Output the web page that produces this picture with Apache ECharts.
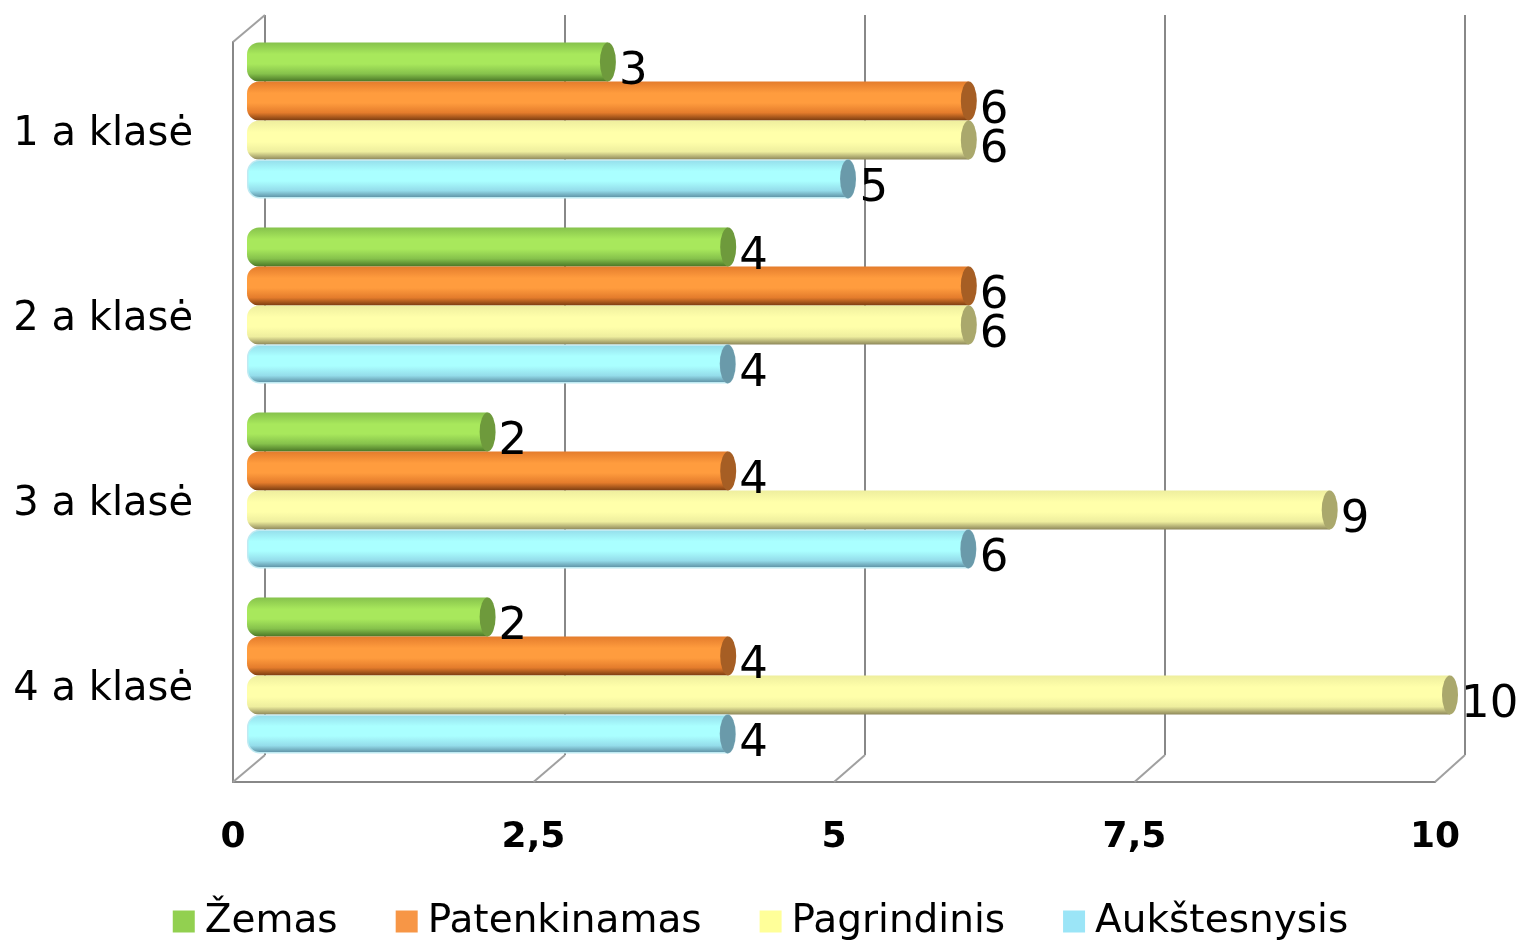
<!DOCTYPE html>
<html><head><meta charset="utf-8">
<script src="https://cdn.jsdelivr.net/npm/echarts@6/dist/echarts.min.js"></script>
<style>html,body{margin:0;padding:0;background:#fff}#c{width:1521px;height:943px}</style>
</head><body><div id="c"></div>
<script>
const categories = ['1 a klasė', '2 a klasė', '3 a klasė', '4 a klasė'];
const seriesNames = ['Žemas', 'Patenkinamas', 'Pagrindinis', 'Aukštesnysis'];
const zemas = [3, 4, 2, 2];
const patenkinamas = [6, 6, 4, 4];
const pagrindinis = [6, 6, 9, 10];
const aukstesnysis = [5, 4, 6, 4];
const xTicks = [0, 2.5, 5, 7.5, 10];

const seriesValues = [zemas, patenkinamas, pagrindinis, aukstesnysis];
const legendColors = ['#92D050', '#F79646', '#FFFF99', '#9BE5F7'];
const shades = [
  {top:'#86c24c', hi:'#a8e85c', bot:'#4a7626', cap:'#6e9a3c', border:null},
  {top:'#e47c2c', hi:'#ff9c3e', bot:'#7a3c10', cap:'#a65e24', border:null},
  {top:'#eeee9e', hi:'#ffffaa', bot:'#8e885a', cap:'#aaa86c', border:null},
  {top:'#94dcea', hi:'#aaffff', bot:'#56869a', cap:'#6a9aaa', border:'#bfeaf2'}
];
function grad(s){
  return new echarts.graphic.LinearGradient(0,0,0,1,[
    {offset:0,color:s.top},{offset:0.3,color:s.hi},{offset:0.55,color:s.hi},{offset:0.8,color:s.top},{offset:1,color:s.bot}]);
}
const FONT = '"DejaVu Sans", Verdana, sans-serif';
const chart = echarts.init(document.getElementById('c'), null, {renderer:'canvas'});

const series = [];
seriesValues.forEach((vals, i) => {
  series.push({
    name: seriesNames[i], type:'bar', xAxisIndex:2, yAxisIndex:2,
    data: vals, barWidth:39, barGap:'0%',
    itemStyle:{color:grad(shades[i]), borderRadius:[12,0,0,12],
      borderColor: shades[i].border || 'rgba(0,0,0,0)', borderWidth: shades[i].border?1.5:0},
    label:{show:true, position:'right', distance:11, offset:[0,10],
      fontFamily:FONT, fontSize:45, color:'#000'},
    z:3
  });
});
seriesValues.forEach((vals, i) => {
  series.push({
    name: seriesNames[i]+'_cap', type:'pictorialBar', xAxisIndex:2, yAxisIndex:2,
    data: vals, barWidth:39, barGap:'0%', symbol:'circle', symbolSize:[16,39],
    symbolPosition:'end', symbolOffset:['50%',0],
    itemStyle:{color:shades[i].cap, borderColor: shades[i].border||'rgba(0,0,0,0)', borderWidth: shades[i].border?1.5:0},
    z:4, silent:true
  });
});

const option = {
  animation:false,
  backgroundColor:'#ffffff',
  grid:[
    {left:265, right:56, top:15, bottom:188},
    {left:233, right:86, top:42, bottom:161},
    {left:247, right:71, top:28, bottom:175}
  ],
  xAxis:[
    {gridIndex:0, type:'value', min:0, max:10, interval:2.5,
      axisLine:{show:false}, axisTick:{show:false}, axisLabel:{show:false},
      splitLine:{show:true, lineStyle:{color:'#888888', width:2}}},
    {gridIndex:1, type:'value', min:0, max:10, interval:2.5,
      axisLine:{show:true, lineStyle:{color:'#888888', width:2}}, axisTick:{show:false},
      splitLine:{show:false},
      axisLabel:{show:true, margin:38, fontFamily:FONT, fontWeight:'bold', fontSize:36, color:'#000',
        formatter: v => String(v).replace('.', ',')}},
    {gridIndex:2, type:'value', min:0, max:10, show:false, splitLine:{show:false}}
  ],
  yAxis:[
    {gridIndex:0, type:'category', data:categories, inverse:true, show:false},
    {gridIndex:1, type:'category', data:categories, inverse:true,
      axisLine:{show:true, lineStyle:{color:'#888888', width:2}}, axisTick:{show:false},
      axisLabel:{margin:40, fontFamily:FONT, fontSize:40, color:'#000'}},
    {gridIndex:2, type:'category', data:categories, inverse:true, show:false}
  ],
  legend:{
    data: seriesNames.map((n,i)=>({name:n, itemStyle:{color:legendColors[i], borderWidth:0}})),
    bottom:-3, left:'center', icon:'rect', itemWidth:22, itemHeight:22, itemGap:58,
    textStyle:{fontFamily:FONT, fontSize:39, color:'#000', padding:[0,0,0,5]}
  },
  series: series
};
chart.setOption(option);

// 3D frame decorations: floor slants and top-left slant, positioned from the axes
const lines = [];
xTicks.forEach(t => {
  const f = chart.convertToPixel({xAxisIndex:1}, t);
  const b = chart.convertToPixel({xAxisIndex:0}, t);
  lines.push({f:[f, 782], b:[b, 755]});
});
lines.push({f:[233, 42], b:[265, 15]});
chart.setOption({graphic: lines.map(l => ({type:'line', shape:{x1:l.f[0], y1:l.f[1], x2:l.b[0], y2:l.b[1]},
  style:{stroke:'#a0a0a0', lineWidth:2}, z:1}))});
</script></body></html>
